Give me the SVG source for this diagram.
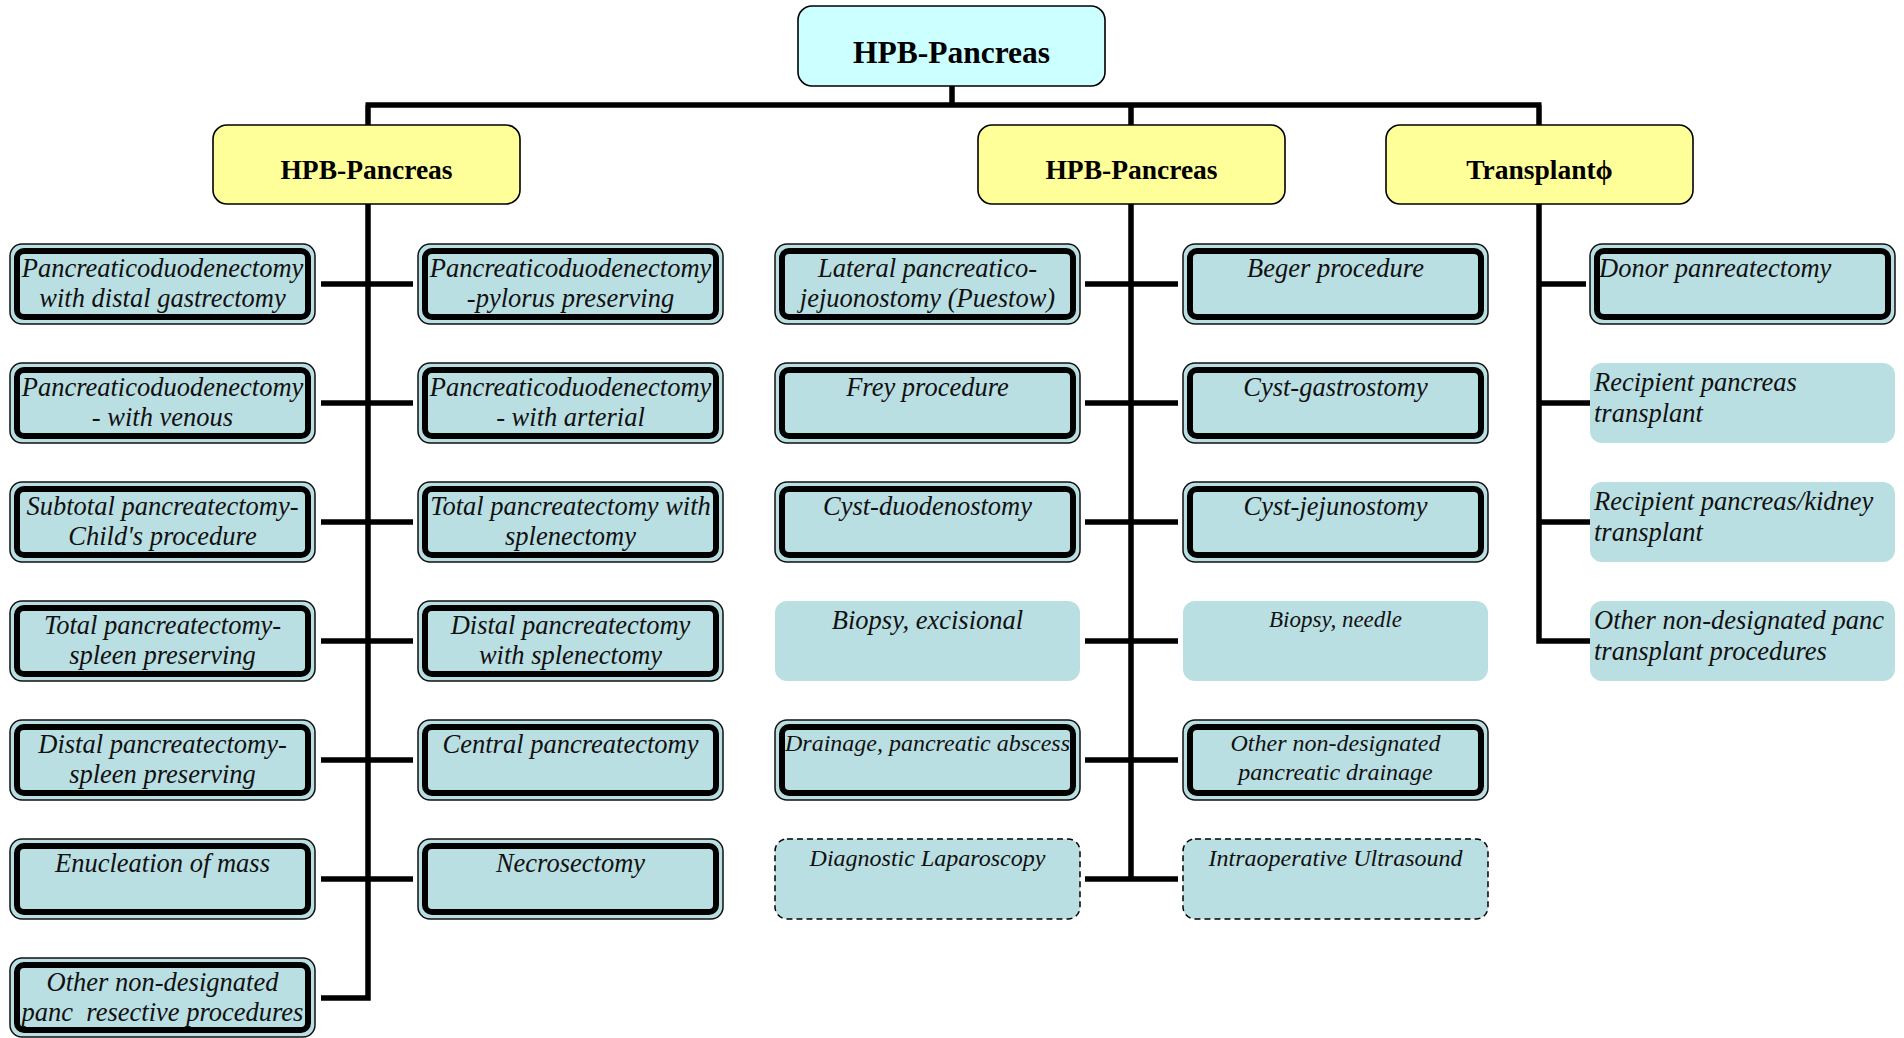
<svg xmlns="http://www.w3.org/2000/svg" width="1904" height="1038" viewBox="0 0 1904 1038">
<style>
.bg{fill:#ffffff}
.root{fill:#ccffff;stroke:#000;stroke-width:1.6}
.cat{fill:#ffff99;stroke:#000;stroke-width:1.6}
.dbo{fill:#badfe3;stroke:#111;stroke-width:1.5}
.dbi{fill:none;stroke:#000;stroke-width:6}
.pl{fill:#badfe3;stroke:none}
.da{fill:#badfe3;stroke:#000;stroke-width:1.5;stroke-dasharray:6 4}
.ln{fill:none;stroke:#000;stroke-width:5.5;stroke-linejoin:miter;stroke-linecap:butt}
.h1{font-family:"Liberation Serif","Times New Roman",serif;font-weight:bold;font-size:31.5px;text-anchor:middle;fill:#000}
.h2{font-family:"Liberation Serif","Times New Roman",serif;font-weight:bold;font-size:27.5px;text-anchor:middle;fill:#000}
.t{font-family:"Liberation Serif","Times New Roman",serif;font-style:italic;font-size:26.5px;text-anchor:middle;fill:#111}
.s{font-size:24px}
.l{text-anchor:start}
</style>
<rect class="bg" x="0" y="0" width="1904" height="1038"/>

<g id="connectors">
<path class="ln" d="M952,86 V105 M365.5,105 H1541.5 M368,105 V125 M1131,105 V125 M1539,105 V125"/>
<path class="ln" d="M368,204 V998 H321 M321,284 H413 M321,403 H413 M321,522 H413 M321,641 H413 M321,760 H413 M321,879 H413"/>
<path class="ln" d="M1131,204 V879 M1085,284 H1178 M1085,403 H1178 M1085,522 H1178 M1085,641 H1178 M1085,760 H1178 M1085,879 H1178"/>
<path class="ln" d="M1539,204 V641 H1590 M1539,284 H1586 M1539,403 H1590 M1539,522 H1590"/>
</g>

<g id="n-root"><rect class="root" x="798" y="6" width="307" height="80" rx="14"/><text class="h1" x="951.5" y="63">HPB-Pancreas</text></g>
<g id="n-cat1"><rect class="cat" x="213" y="125" width="307" height="79" rx="14"/><text class="h2" x="366.5" y="179">HPB-Pancreas</text></g>
<g id="n-cat2"><rect class="cat" x="978" y="125" width="307" height="79" rx="14"/><text class="h2" x="1131.5" y="179">HPB-Pancreas</text></g>
<g id="n-cat3"><rect class="cat" x="1386" y="125" width="307" height="79" rx="14"/><text class="h2" x="1539.5" y="179">Transplantϕ</text></g>

<!-- left column 1 -->
<g id="n-l1"><rect class="dbo" x="10" y="244" width="305" height="80" rx="12"/><rect class="dbi" x="17" y="251" width="291" height="66" rx="7"/><text class="t" x="162.5" y="277">Pancreaticoduodenectomy</text><text class="t" x="162.5" y="307">with distal gastrectomy</text></g>
<g id="n-l2"><rect class="dbo" x="10" y="363" width="305" height="80" rx="12"/><rect class="dbi" x="17" y="370" width="291" height="66" rx="7"/><text class="t" x="162.5" y="396">Pancreaticoduodenectomy</text><text class="t" x="162.5" y="426">- with venous</text></g>
<g id="n-l3"><rect class="dbo" x="10" y="482" width="305" height="80" rx="12"/><rect class="dbi" x="17" y="489" width="291" height="66" rx="7"/><text class="t" x="162.5" y="515">Subtotal pancreatectomy-</text><text class="t" x="162.5" y="545">Child's procedure</text></g>
<g id="n-l4"><rect class="dbo" x="10" y="601" width="305" height="80" rx="12"/><rect class="dbi" x="17" y="608" width="291" height="66" rx="7"/><text class="t" x="162.5" y="634">Total pancreatectomy-</text><text class="t" x="162.5" y="664">spleen preserving</text></g>
<g id="n-l5"><rect class="dbo" x="10" y="720" width="305" height="80" rx="12"/><rect class="dbi" x="17" y="727" width="291" height="66" rx="7"/><text class="t" x="162.5" y="753">Distal pancreatectomy-</text><text class="t" x="162.5" y="783">spleen preserving</text></g>
<g id="n-l6"><rect class="dbo" x="10" y="839" width="305" height="80" rx="12"/><rect class="dbi" x="17" y="846" width="291" height="66" rx="7"/><text class="t" x="162.5" y="872">Enucleation of mass</text></g>
<g id="n-l7"><rect class="dbo" x="10" y="958" width="305" height="79" rx="12"/><rect class="dbi" x="17" y="965" width="291" height="65" rx="7"/><text class="t" x="162.5" y="991">Other non-designated</text><text class="t" x="162.5" y="1021" style="white-space:pre">panc  resective procedures</text></g>

<!-- left column 2 -->
<g id="n-r1"><rect class="dbo" x="418" y="244" width="305" height="80" rx="12"/><rect class="dbi" x="425" y="251" width="291" height="66" rx="7"/><text class="t" x="570.5" y="277">Pancreaticoduodenectomy</text><text class="t" x="570.5" y="307">-pylorus preserving</text></g>
<g id="n-r2"><rect class="dbo" x="418" y="363" width="305" height="80" rx="12"/><rect class="dbi" x="425" y="370" width="291" height="66" rx="7"/><text class="t" x="570.5" y="396">Pancreaticoduodenectomy</text><text class="t" x="570.5" y="426">- with arterial</text></g>
<g id="n-r3"><rect class="dbo" x="418" y="482" width="305" height="80" rx="12"/><rect class="dbi" x="425" y="489" width="291" height="66" rx="7"/><text class="t" x="570.5" y="515">Total pancreatectomy with</text><text class="t" x="570.5" y="545">splenectomy</text></g>
<g id="n-r4"><rect class="dbo" x="418" y="601" width="305" height="80" rx="12"/><rect class="dbi" x="425" y="608" width="291" height="66" rx="7"/><text class="t" x="570.5" y="634">Distal pancreatectomy</text><text class="t" x="570.5" y="664">with splenectomy</text></g>
<g id="n-r5"><rect class="dbo" x="418" y="720" width="305" height="80" rx="12"/><rect class="dbi" x="425" y="727" width="291" height="66" rx="7"/><text class="t" x="570.5" y="753">Central pancreatectomy</text></g>
<g id="n-r6"><rect class="dbo" x="418" y="839" width="305" height="80" rx="12"/><rect class="dbi" x="425" y="846" width="291" height="66" rx="7"/><text class="t" x="570.5" y="872">Necrosectomy</text></g>

<!-- middle column 1 -->
<g id="n-m1"><rect class="dbo" x="775" y="244" width="305" height="80" rx="12"/><rect class="dbi" x="782" y="251" width="291" height="66" rx="7"/><text class="t" x="927.5" y="277">Lateral pancreatico-</text><text class="t" x="927.5" y="307">jejuonostomy (Puestow)</text></g>
<g id="n-m2"><rect class="dbo" x="775" y="363" width="305" height="80" rx="12"/><rect class="dbi" x="782" y="370" width="291" height="66" rx="7"/><text class="t" x="927.5" y="396">Frey procedure</text></g>
<g id="n-m3"><rect class="dbo" x="775" y="482" width="305" height="80" rx="12"/><rect class="dbi" x="782" y="489" width="291" height="66" rx="7"/><text class="t" x="927.5" y="515">Cyst-duodenostomy</text></g>
<g id="n-m4"><rect class="pl" x="775" y="601" width="305" height="80" rx="12"/><text class="t" x="927.5" y="629">Biopsy, excisional</text></g>
<g id="n-m5"><rect class="dbo" x="775" y="720" width="305" height="80" rx="12"/><rect class="dbi" x="782" y="727" width="291" height="66" rx="7"/><text class="t s" x="927.5" y="751">Drainage, pancreatic abscess</text></g>
<g id="n-m6"><rect class="da" x="775" y="839" width="305" height="80" rx="12"/><text class="t s" x="927.5" y="866">Diagnostic Laparoscopy</text></g>

<!-- middle column 2 -->
<g id="n-n1"><rect class="dbo" x="1183" y="244" width="305" height="80" rx="12"/><rect class="dbi" x="1190" y="251" width="291" height="66" rx="7"/><text class="t" x="1335.5" y="277">Beger procedure</text></g>
<g id="n-n2"><rect class="dbo" x="1183" y="363" width="305" height="80" rx="12"/><rect class="dbi" x="1190" y="370" width="291" height="66" rx="7"/><text class="t" x="1335.5" y="396">Cyst-gastrostomy</text></g>
<g id="n-n3"><rect class="dbo" x="1183" y="482" width="305" height="80" rx="12"/><rect class="dbi" x="1190" y="489" width="291" height="66" rx="7"/><text class="t" x="1335.5" y="515">Cyst-jejunostomy</text></g>
<g id="n-n4"><rect class="pl" x="1183" y="601" width="305" height="80" rx="12"/><text class="t" x="1335.5" y="627" style="font-size:23px">Biopsy, needle</text></g>
<g id="n-n5"><rect class="dbo" x="1183" y="720" width="305" height="80" rx="12"/><rect class="dbi" x="1190" y="727" width="291" height="66" rx="7"/><text class="t s" x="1335.5" y="751">Other non-designated</text><text class="t s" x="1335.5" y="780">pancreatic drainage</text></g>
<g id="n-n6"><rect class="da" x="1183" y="839" width="305" height="80" rx="12"/><text class="t s" x="1335.5" y="866">Intraoperative Ultrasound</text></g>

<!-- right column -->
<g id="n-t1"><rect class="dbo" x="1590" y="244" width="305" height="80" rx="12"/><rect class="dbi" x="1597" y="251" width="291" height="66" rx="7"/><text class="t l" x="1599" y="277">Donor panreatectomy</text></g>
<g id="n-t2"><rect class="pl" x="1590" y="363" width="305" height="80" rx="12"/><text class="t l" x="1594" y="391">Recipient pancreas</text><text class="t l" x="1594" y="422">transplant</text></g>
<g id="n-t3"><rect class="pl" x="1590" y="482" width="305" height="80" rx="12"/><text class="t l" x="1594" y="510">Recipient pancreas/kidney</text><text class="t l" x="1594" y="541">transplant</text></g>
<g id="n-t4"><rect class="pl" x="1590" y="601" width="305" height="80" rx="12"/><text class="t l" x="1594" y="629">Other non-designated panc</text><text class="t l" x="1594" y="660">transplant procedures</text></g>
</svg>
